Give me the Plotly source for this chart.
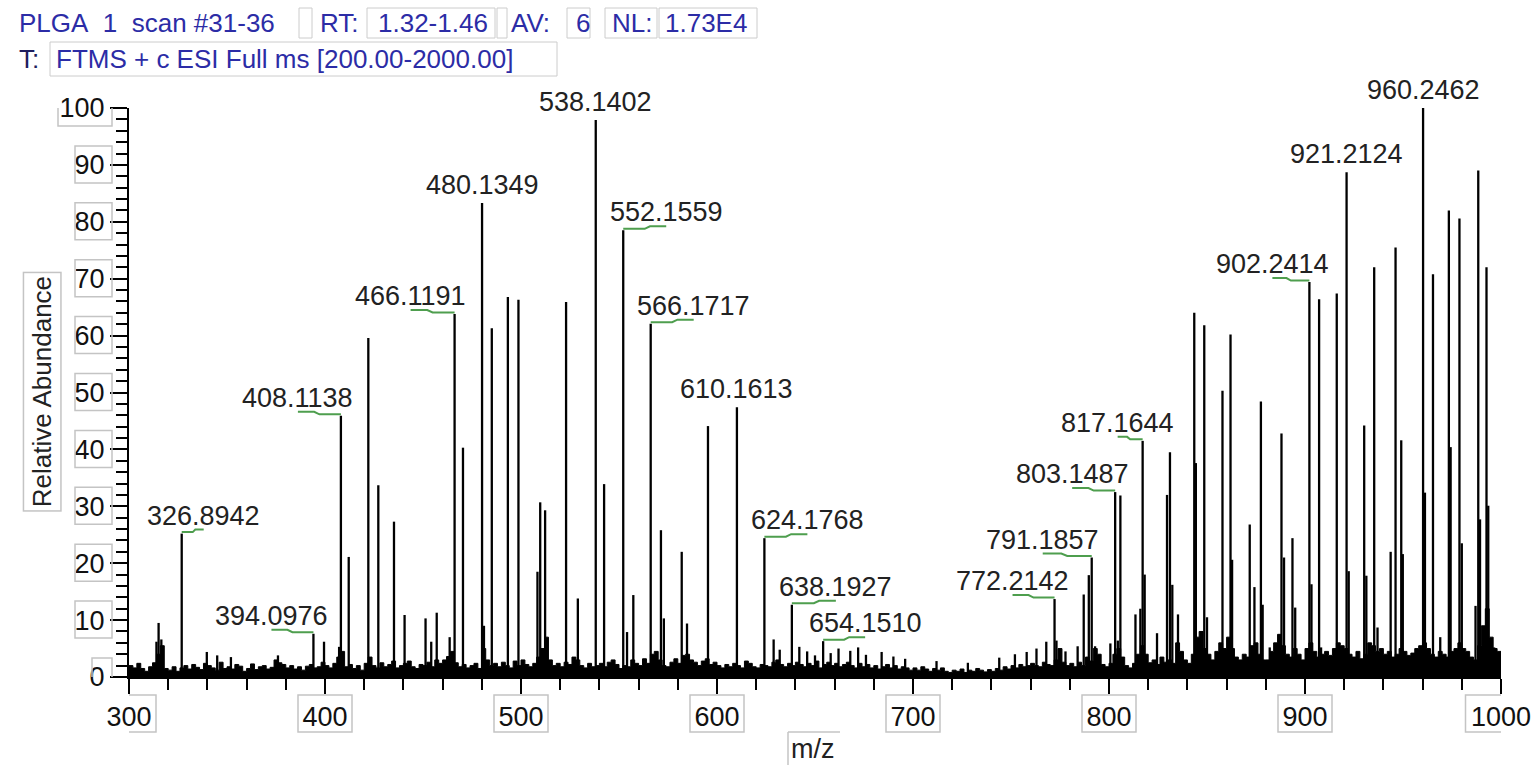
import plotly.graph_objects as go

# ---------------- data ----------------
# labelled peaks (m/z, relative abundance)
label_mz = [326.8942, 394.0976, 408.1138, 466.1191, 480.1349, 538.1402, 552.1559,
            566.1717, 610.1613, 624.1768, 638.1927, 654.1510, 772.2142, 791.1857,
            803.1487, 817.1644, 902.2414, 921.2124, 960.2462]
label_int = [25.2, 7.6, 45.9, 63.8, 83.3, 97.9, 78.5,
             62.1, 47.4, 24.4, 12.7, 6.3, 13.7, 21.0,
             32.5, 41.5, 69.4, 88.7, 100.0]

# other centroid peaks (m/z, relative abundance)
peak_mz = [314.0, 315.1, 316.5, 339.7, 345.0, 352.0, 376.0, 399.5, 407.2, 412.1,
           422.1, 427.2, 435.2, 440.6, 451.3, 454.2, 457.0, 463.6, 470.4, 481.1,
           485.1, 493.3, 498.7, 508.4, 509.8, 512.3, 523.0, 529.0, 542.4, 554.1,
           557.3, 571.4, 572.9, 582.0, 584.7, 595.4, 628.9, 632.0, 642.0, 646.0,
           650.0, 658.0, 662.0, 668.0, 672.0, 676.0, 684.0, 690.0, 696.0, 712.0,
           728.0, 744.0, 752.0, 758.0, 763.0, 768.0, 773.2, 777.8, 784.0, 787.1,
           789.7, 792.9, 800.7, 804.5, 805.8, 813.5, 816.0, 818.2, 824.5, 829.6,
           831.1, 832.3, 835.2, 843.5, 844.3, 848.6, 850.0, 857.9, 862.0, 862.8,
           871.8, 874.2, 877.5, 878.4, 882.0, 888.0, 889.3, 893.6, 895.0, 903.3,
           907.2, 908.2, 916.2, 922.3, 930.2, 931.3, 935.3, 937.0, 943.7, 946.2,
           949.1, 949.9, 961.2, 965.3, 969.0, 973.4, 974.3, 978.8, 980.0, 987.0,
           988.4, 989.3, 992.6, 993.5, 995.0, 996.5, 998.0, 999.5]
peak_int = [6.2, 9.5, 6.6, 4.4, 3.8, 3.5, 3.8, 6.2, 5.3, 21.1,
            59.6, 33.7, 27.3, 10.9, 10.3, 6.2, 11.3, 7.0, 40.3, 9.0,
            61.3, 66.8, 66.3, 18.5, 30.7, 29.3, 65.9, 13.8, 33.9, 7.9,
            14.4, 25.8, 10.3, 22.0, 9.4, 44.1, 6.6, 4.8, 5.3, 4.5,
            3.8, 4.2, 5.0, 4.6, 5.2, 3.9, 4.4, 3.6, 3.2, 2.8,
            2.5, 3.4, 4.0, 4.4, 5.0, 6.2, 6.4, 4.5, 5.4, 14.5,
            17.9, 5.4, 5.9, 6.4, 31.9, 11.0, 12.0, 18.0, 7.7, 32.0,
            39.5, 16.2, 11.0, 64.0, 37.6, 61.8, 10.5, 50.3, 60.2, 20.6,
            26.8, 15.8, 48.4, 12.7, 5.2, 42.8, 21.0, 24.4, 12.2, 16.3,
            66.4, 5.2, 67.4, 18.6, 44.2, 17.8, 72.0, 8.7, 22.0, 75.5,
            41.6, 21.6, 32.4, 70.8, 7.0, 82.0, 40.4, 80.6, 23.5, 12.5,
            89.0, 27.7, 72.0, 30.1, 6.3, 5.2, 3.4, 3.1]

# noise floor, sampled every 2 m/z from 300
noise_start = 300
noise_step = 2
noise_int = [
    2.0, 1.6, 2.4, 1.5, 1.0, 1.8, 2.5, 4.0, 5.5, 1.5,
    1.2, 1.8, 1.0, 1.6, 2.0, 1.4, 2.2, 1.7, 1.3, 2.4,
    2.0, 1.6, 1.2, 2.6, 1.5, 1.8, 1.4, 2.2, 1.9, 1.0,
    1.5, 2.3, 1.3, 1.8, 2.0, 1.4, 1.7, 3.0, 2.5, 2.2,
    1.6, 2.0, 1.4, 1.8, 1.2, 1.9, 2.2, 1.6, 1.8, 2.6,
    2.0, 1.6, 2.4, 3.5, 4.5, 1.8, 2.2, 1.5, 2.0, 1.2,
    2.4, 3.5, 2.0, 1.6, 2.5, 1.8, 2.2, 2.8, 1.6, 2.0,
    2.4, 2.8, 1.8, 1.5, 2.2, 2.0, 2.6, 1.8, 3.0, 2.4,
    3.0, 3.6, 4.5, 2.5, 1.8, 2.2, 1.6, 2.0, 2.4, 1.5,
    5.0, 3.0, 2.0, 2.4, 1.8, 2.6, 2.0, 1.6, 2.8, 2.0,
    3.0, 2.2, 1.8, 2.4, 3.5, 5.0, 7.0, 3.0, 2.0, 2.4,
    1.8, 2.6, 2.2, 3.5, 3.0, 2.0, 1.6, 2.4, 1.8, 2.0,
    2.4, 1.8, 2.6, 3.0, 2.2, 1.5, 2.0, 1.8, 3.0, 2.4,
    2.0, 3.2, 2.4, 4.0, 4.5, 3.0, 2.0, 1.8, 2.6, 3.2,
    2.4, 3.8, 4.0, 3.0, 2.6, 2.0, 2.8, 3.2, 2.2, 2.6,
    2.0, 1.6, 2.2, 1.8, 2.4, 2.0, 1.6, 2.8, 2.4, 1.8,
    1.6, 2.2, 2.0, 1.8, 2.6, 3.0, 2.2, 1.8, 2.4, 2.0,
    2.6, 2.2, 1.8, 2.4, 2.0, 2.8, 1.6, 2.2, 2.6, 2.0,
    2.4, 1.8, 2.2, 2.6, 2.0, 1.6, 2.4, 1.8, 2.2, 1.6,
    2.0, 1.4, 1.8, 2.2, 1.6, 2.0, 1.4, 1.8, 1.6, 1.2,
    1.6, 1.2, 1.8, 1.4, 1.0, 1.5, 1.2, 1.6, 1.0, 0.8,
    1.2, 1.0, 1.4, 0.8, 1.2, 1.0, 1.5, 1.2, 0.9, 1.3,
    1.0, 1.5, 1.2, 1.8, 1.4, 2.0, 1.6, 2.2, 1.8, 2.0,
    2.4, 2.0, 1.8, 2.6, 2.2, 2.0, 3.0, 5.0, 2.6, 2.0,
    2.4, 1.8, 2.6, 2.0, 3.5, 2.8, 5.0, 4.0, 2.2, 1.8,
    2.4, 4.0, 5.0, 3.5, 2.0, 1.6, 2.4, 4.0, 5.5, 4.0,
    2.5, 3.0, 2.2, 3.5, 2.6, 3.0, 2.4, 6.0, 4.5, 3.0,
    2.4, 4.0, 7.0, 8.0, 5.0, 4.0, 3.0, 4.5, 6.0, 5.0,
    7.0, 5.0, 3.5, 3.0, 4.0, 3.5, 5.5, 6.0, 4.0, 3.0,
    3.0, 4.5, 6.0, 7.5, 5.5, 4.0, 3.5, 5.0, 4.0, 3.0,
    5.0, 6.0, 4.5, 3.5, 4.0, 4.5, 3.8, 5.0, 6.0, 5.5,
    5.0, 4.0, 3.5, 4.5, 3.2, 4.0, 6.0, 5.5, 4.5, 5.0,
    4.0, 4.5, 3.5, 4.0, 5.0, 4.5, 3.8, 4.2, 5.0, 5.5,
    6.0, 5.0, 4.0, 3.5, 4.5, 4.0, 3.5, 4.5, 5.0, 6.0,
    5.0, 4.5, 3.5, 3.0, 5.5, 9.0, 12.0, 7.0, 5.0, 4.5,
    2.5]

x_ticks = [300, 400, 500, 600, 700, 800, 900, 1000]
y_ticks = [0, 10, 20, 30, 40, 50, 60, 70, 80, 90, 100]

header_line1 = ["PLGA\u00a0\u00a01\u00a0\u00a0scan #31-36", "RT:", "1.32-1.46", "AV:", "6", "NL:", "1.73E4"]
header_line2 = ["T:", "FTMS + c ESI Full ms [200.00-2000.00]"]

# label offsets (px) from the peak, a layout choice
label_dx = [22, -42, -43, -44, 0, 0, 43, 43, 0, 43, 44, 42, -42, -49, -43, -25, -37, 0, 0]

# ---------------- layout geometry ----------------
W, H = 1535, 765
L, R, T, B = 129, 34, 108, 88
PW, PH = W - L - R, H - T - B
FONT = "Liberation Sans, Arial, sans-serif"
BLUE = "#2c2ca6"
GRAY = "#c4c4c4"


def px(x):
    return (x - L) / PW


def py(y):
    return (T + PH - y) / PH


# ---------------- traces ----------------
noise_x = [noise_start + i * noise_step for i in range(len(noise_int))]

stick_x, stick_y = [], []
for m, h in zip(peak_mz + label_mz, peak_int + label_int):
    stick_x += [m, m, None]
    stick_y += [0, h, None]

fig = go.Figure()
fig.add_trace(go.Scatter(x=noise_x, y=noise_int, mode="lines",
                         line=dict(shape="hv", width=1, color="black"),
                         fill="tozeroy", fillcolor="black", hoverinfo="skip",
                         showlegend=False))
fig.add_trace(go.Scatter(x=stick_x, y=stick_y, mode="lines",
                         line=dict(width=2.3, color="black"), showlegend=False))

annotations = []
shapes = []

# peak labels + green connector marks
for m, h, dx in zip(label_mz, label_int, label_dx):
    annotations.append(dict(x=m, y=h, xref="x", yref="y", text=f"{m:.4f}",
                            showarrow=False, xanchor="center", yanchor="bottom",
                            xshift=dx, yshift=1,
                            font=dict(family=FONT, size=27, color="#222222")))
    if dx != 0:
        shapes.append(dict(type="path", xref="x", yref="y",
                           xsizemode="pixel", ysizemode="pixel",
                           xanchor=m, yanchor=h,
                           path=f"M {dx},4 L {0.62*dx:.1f},4 L {0.5*dx:.1f},1.5 L 0,1.5",
                           line=dict(color="#4e9e4e", width=2)))

# tick label boxes
for v in y_ticks:
    n = len(str(v))
    shapes.append(dict(type="rect", xref="paper", yref="y",
                       xsizemode="pixel", ysizemode="pixel", xanchor=0, yanchor=v,
                       x0=-17 - (17 * n + 3), x1=-17, y0=-18, y1=19,
                       line=dict(color=GRAY, width=1.5)))
for v in x_ticks:
    n = len(str(v))
    w = 17 * n + 3
    shapes.append(dict(type="rect", xref="x", yref="paper",
                       xsizemode="pixel", ysizemode="pixel", xanchor=v, yanchor=0,
                       x0=-w / 2, x1=w / 2, y0=-18, y1=-55,
                       line=dict(color=GRAY, width=1.5)))

# axis titles
annotations.append(dict(x=px(41.7), y=py(392), xref="paper", yref="paper",
                        text="Relative Abundance", textangle=-90, showarrow=False,
                        xanchor="center", yanchor="middle",
                        bordercolor=GRAY, borderwidth=1.5, borderpad=3,
                        font=dict(family=FONT, size=26, color="#222222")))
annotations.append(dict(x=px(813), y=py(749), xref="paper", yref="paper",
                        text="m/z", showarrow=False, xanchor="center", yanchor="middle",
                        font=dict(family=FONT, size=27, color="#222222")))
shapes.append(dict(type="line", xref="paper", yref="paper",
                   x0=px(788), x1=px(788), y0=py(732), y1=py(766),
                   line=dict(color=GRAY, width=1.5)))
shapes.append(dict(type="line", xref="paper", yref="paper",
                   x0=px(788), x1=px(840), y0=py(732), y1=py(732),
                   line=dict(color=GRAY, width=1.5)))

# header
line1_x = [17, 318, 376, 509, 574, 610, 663]
for xl, t in zip(line1_x, header_line1):
    annotations.append(dict(x=px(xl), y=py(22.5), xref="paper", yref="paper", text=t,
                            showarrow=False, xanchor="left", yanchor="middle",
                            font=dict(family=FONT, size=26, color=BLUE)))
line2_x = [17, 54]
line2_c = ["#1e1e5e", BLUE]
for xl, t, c in zip(line2_x, header_line2, line2_c):
    annotations.append(dict(x=px(xl), y=py(59), xref="paper", yref="paper", text=t,
                            showarrow=False, xanchor="left", yanchor="middle",
                            font=dict(family=FONT, size=26, color=c)))
header_boxes = [(299, 312, 8, 38), (367, 495, 8, 38), (497, 507, 8, 38),
                (567, 590, 8, 38), (605, 657, 8, 38), (659, 757, 8, 38),
                (50, 557, 42, 76)]
for x0, x1, y0, y1 in header_boxes:
    shapes.append(dict(type="rect", xref="paper", yref="paper",
                       x0=px(x0), x1=px(x1), y0=py(y1), y1=py(y0),
                       line=dict(color="#cccccc", width=1)))

fig.update_layout(
    width=W, height=H,
    margin=dict(l=L, r=R, t=T, b=B, autoexpand=False),
    paper_bgcolor="white", plot_bgcolor="white",
    font=dict(family=FONT, size=27, color="#111111"),
    annotations=annotations, shapes=shapes,
    showlegend=False,
)
fig.update_xaxes(range=[300, 1000], tickvals=x_ticks, ticks="outside", ticklen=15,
                 tickwidth=2, tickcolor="black", showline=True, linecolor="black",
                 linewidth=2, showgrid=False, zeroline=False,
                 tickfont=dict(family=FONT, size=27, color="#111111"),
                 minor=dict(dtick=20, ticks="outside", ticklen=11, tickwidth=1.5,
                            tickcolor="black", showgrid=False))
fig.update_yaxes(range=[0, 100], tickvals=y_ticks, ticks="outside", ticklen=17,
                 tickwidth=2, tickcolor="black", showline=True, linecolor="black",
                 linewidth=2, showgrid=False, zeroline=False,
                 tickfont=dict(family=FONT, size=27, color="#111111"),
                 minor=dict(dtick=2, ticks="outside", ticklen=11, tickwidth=1.5,
                            tickcolor="black", showgrid=False))

fig.write_html("out.html", config={"displayModeBar": False},
               post_script="document.body.style.margin='0px';document.body.style.overflow='hidden';")
